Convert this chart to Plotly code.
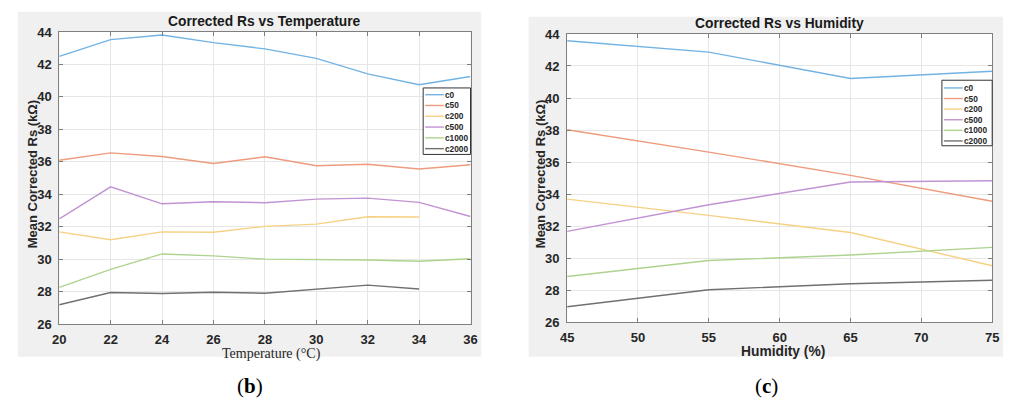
import plotly.graph_objects as go

# ---------------- data ----------------
series_names = ["c0", "c50", "c200", "c500", "c1000", "c2000"]
series_colors = ["#72B3E3", "#EE9B7E", "#F6D183", "#C293D2", "#AED38F", "#707070"]

temperature = [20, 22, 24, 26, 28, 30, 32, 34, 36]
temp_c0 = [42.50, 43.53, 43.82, 43.35, 42.96, 42.38, 41.42, 40.75, 41.26]
temp_c50 = [36.10, 36.55, 36.33, 35.90, 36.31, 35.76, 35.85, 35.56, 35.82]
temp_c200 = [31.68, 31.20, 31.68, 31.66, 32.02, 32.16, 32.61, 32.60, None]
temp_c500 = [32.48, 34.46, 33.41, 33.54, 33.48, 33.70, 33.76, 33.50, 32.63]
temp_c1000 = [28.26, 29.37, 30.32, 30.20, 30.00, 29.98, 29.95, 29.87, 30.02]
temp_c2000 = [27.19, 27.94, 27.88, 27.96, 27.90, 28.14, 28.40, 28.16, None]

humidity = [45, 55, 65, 75]
hum_c0 = [43.58, 42.87, 41.22, 41.67]
hum_c50 = [38.02, 36.62, 35.17, 33.55]
hum_c200 = [33.68, 32.67, 31.60, 29.52]
hum_c500 = [31.67, 33.33, 34.75, 34.83]
hum_c1000 = [28.85, 29.85, 30.19, 30.67]
hum_c2000 = [26.96, 28.02, 28.40, 28.61]

temp_ticks = [20, 22, 24, 26, 28, 30, 32, 34, 36]
hum_ticks = [45, 50, 55, 60, 65, 70, 75]
y_ticks = [26, 28, 30, 32, 34, 36, 38, 40, 42, 44]

temp_series = [temp_c0, temp_c50, temp_c200, temp_c500, temp_c1000, temp_c2000]
hum_series = [hum_c0, hum_c50, hum_c200, hum_c500, hum_c1000, hum_c2000]

# ---------------- figure ----------------
W, H = 1013, 412
fig = go.Figure()

for name, col, ys in zip(series_names, series_colors, temp_series):
    fig.add_trace(go.Scatter(x=temperature, y=ys, mode="lines", name=name,
                             line=dict(color=col, width=1.4), xaxis="x", yaxis="y",
                             showlegend=False))
for name, col, ys in zip(series_names, series_colors, hum_series):
    fig.add_trace(go.Scatter(x=humidity, y=ys, mode="lines", name=name,
                             line=dict(color=col, width=1.4), xaxis="x2", yaxis="y2",
                             showlegend=False))

def px_x(p):
    return p / W

def px_y(p):
    return 1 - p / H

tickfont = dict(family="Arial, Liberation Sans", size=13, color="#262626", weight="bold")
axis_common = dict(showline=True, linecolor="#7F7F7F", linewidth=1, mirror="allticks",
                   ticks="inside", ticklen=4, tickcolor="#7F7F7F", showgrid=True,
                   gridcolor="#E6E6E6", gridwidth=1, zeroline=False, tickfont=tickfont)

fig.update_layout(
    width=W, height=H, margin=dict(l=0, r=0, t=0, b=0),
    paper_bgcolor="white", plot_bgcolor="white", showlegend=False,
    xaxis=dict(domain=[px_x(53), px_x(470)], range=[20, 36], tickvals=temp_ticks,
               anchor="y", ticklabelstandoff=3, **axis_common),
    yaxis=dict(domain=[px_y(329), px_y(26)], range=[26, 44], tickvals=y_ticks,
               anchor="x", ticklabelstandoff=4, **axis_common),
    xaxis2=dict(domain=[px_x(568), px_x(999)], range=[45, 75], tickvals=hum_ticks,
                anchor="y2", ticklabelstandoff=3, **axis_common),
    yaxis2=dict(domain=[px_y(327), px_y(28)], range=[26, 44], tickvals=y_ticks,
                anchor="x2", ticklabelstandoff=4, **axis_common),
)

shapes = []
annotations = []
# gray figure backgrounds
for x0, x1, y0, y1 in [(11, 481, 5, 363), (529, 1010, 10, 363)]:
    shapes.append(dict(type="rect", xref="paper", yref="paper", x0=px_x(x0), x1=px_x(x1),
                       y0=px_y(y1), y1=px_y(y0), fillcolor="#F0F0F0", line=dict(width=0),
                       layer="below"))
# white plot areas on top of gray
for xa, ya in [("x", "y"), ("x2", "y2")]:
    shapes.append(dict(type="rect", xref=xa + " domain", yref=ya + " domain", x0=0, x1=1,
                       y0=0, y1=1, fillcolor="white", line=dict(width=0), layer="below"))

# titles
title_font = dict(family="Arial, Liberation Sans", size=13.8, color="#1A1A1A", weight="bold")
annotations.append(dict(text="Corrected Rs vs Temperature", x=px_x(261.5), y=px_y(15),
                        xref="paper", yref="paper", showarrow=False, font=title_font,
                        xanchor="center", yanchor="middle"))
annotations.append(dict(text="Corrected Rs vs Humidity", x=px_x(783.5), y=px_y(17),
                        xref="paper", yref="paper", showarrow=False, font=title_font,
                        xanchor="center", yanchor="middle"))
# y titles
ytitle_font = dict(family="Arial, Liberation Sans", size=13, color="#262626", weight="bold")
for xc, yc in [(26, 174), (541, 174)]:
    annotations.append(dict(text="Mean Corrected Rs (kΩ)", x=px_x(xc), y=px_y(yc),
                            xref="paper", yref="paper", showarrow=False, textangle=-90,
                            font=ytitle_font, xanchor="center", yanchor="middle"))
# x titles
annotations.append(dict(text="Temperature (°C)", x=px_x(268), y=px_y(360), xref="paper",
                        yref="paper", showarrow=False, borderpad=0,
                        font=dict(family="Liberation Serif, Times New Roman", size=14,
                                  color="#262626"),
                        xanchor="center", yanchor="middle"))
annotations.append(dict(text="Humidity (%)", x=px_x(787), y=px_y(357), xref="paper",
                        yref="paper", showarrow=False, borderpad=0,
                        font=dict(family="Arial, Liberation Sans", size=13.8, color="#262626",
                                  weight="bold"),
                        xanchor="center", yanchor="middle"))
# panel labels
for lbl, xc in [("b", 246), ("c", 770)]:
    annotations.append(dict(text="(<b>%s</b>)" % lbl, x=px_x(xc), y=px_y(393), xref="paper",
                            yref="paper", showarrow=False,
                            font=dict(family="Liberation Serif, Times New Roman", size=21,
                                      color="black"),
                            xanchor="center", yanchor="middle"))

# legends (box + sample lines + labels), placed in axis-domain coordinates
def add_legend(xa, ya, plot_px, box_px, first_px, step_px):
    (px0, px1, py0, py1) = plot_px
    (bx0, bx1, by0, by1) = box_px
    fx = lambda p: (p - px0) / (px1 - px0)
    fy = lambda p: 1 - (p - py0) / (py1 - py0)
    shapes.append(dict(type="rect", xref=xa + " domain", yref=ya + " domain",
                       x0=fx(bx0), x1=fx(bx1), y0=fy(by1), y1=fy(by0),
                       fillcolor="white", line=dict(color="#333333", width=1)))
    for i, (name, col) in enumerate(zip(series_names, series_colors)):
        yy = first_px + i * step_px
        shapes.append(dict(type="line", xref=xa + " domain", yref=ya + " domain",
                           x0=fx(bx0 + 2), x1=fx(bx0 + 21), y0=fy(yy), y1=fy(yy),
                           line=dict(color=col, width=1.4)))
        annotations.append(dict(text=name, x=fx(bx0 + 21), y=fy(yy), xref=xa + " domain",
                                yref=ya + " domain", showarrow=False, xanchor="left",
                                yanchor="middle", borderpad=0,
                                font=dict(family="Arial, Liberation Sans", size=8.3,
                                          color="#262626", weight="bold")))

add_legend("x", "y", (53, 470, 26, 329), (422, 470, 84, 153), 91, 11.2)
add_legend("x2", "y2", (568, 999, 28, 327), (948, 999, 76, 144), 84, 11)

fig.update_layout(shapes=shapes, annotations=annotations)
fig.write_html("out.html")
